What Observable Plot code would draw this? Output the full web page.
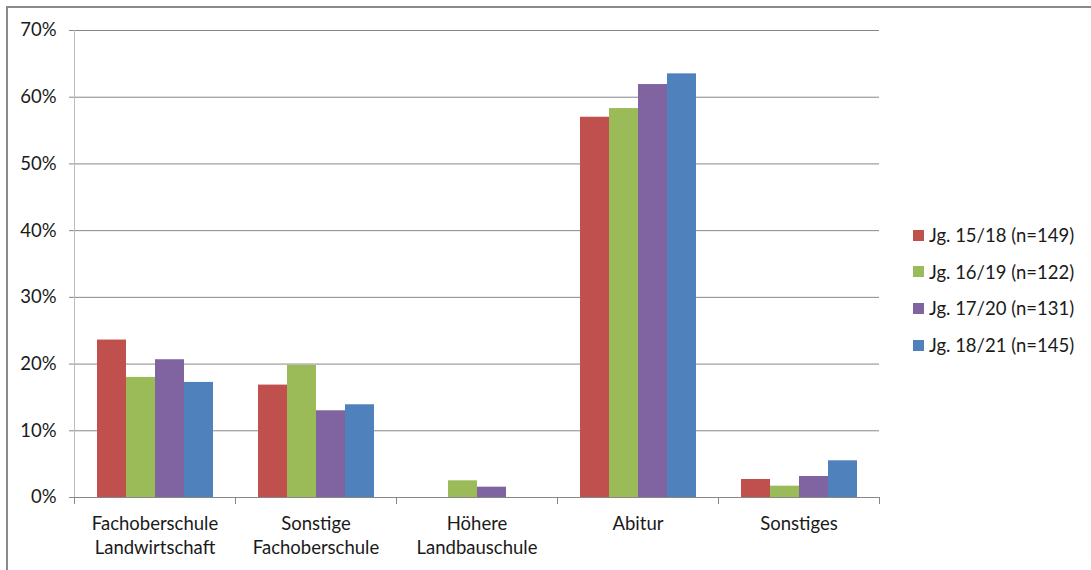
<!DOCTYPE html>
<html>
<head>
<meta charset="utf-8">
<script src="https://cdn.jsdelivr.net/npm/d3@7"></script>
<script src="https://cdn.jsdelivr.net/npm/@observablehq/plot@0.6"></script>
<style>
  html, body { margin: 0; padding: 0; background: #fff; }
  #wrap { position: relative; width: 1091px; height: 570px; overflow: hidden; background: #fff; }
  #border { position: absolute; left: 6px; top: 6px; width: 1200px; height: 700px; border: 2px solid #8a8a8a; box-sizing: border-box; pointer-events: none; }
  #legend { position: absolute; left: 913px; top: 0; font-family: Lato, "Open Sans", sans-serif; font-size: 18.5px; color: #1a1a1a; }
  .row { position: absolute; left: 0; white-space: nowrap; display: flex; align-items: center; height: 20px; }
  .sw { width: 11px; height: 11px; margin-right: 5px; }
</style>
</head>
<body>
<div id="wrap"><div id="chart"></div><div id="legend"></div><div id="border"></div></div>
<script>
// ---- data ----
const categories = ["Fachoberschule\nLandwirtschaft", "Sonstige\nFachoberschule", "Höhere\nLandbauschule", "Abitur", "Sonstiges"];
const series = ["Jg. 15/18 (n=149)", "Jg. 16/19 (n=122)", "Jg. 17/20 (n=131)", "Jg. 18/21 (n=145)"];
const values1518 = [23.6, 16.85, 0, 57.0, 2.7];
const values1619 = [18.0, 19.8, 2.5, 58.3, 1.7];
const values1720 = [20.65, 13.0, 1.55, 61.9, 3.15];
const values1821 = [17.25, 13.9, 0, 63.5, 5.5];
const yTicks = [0, 10, 20, 30, 40, 50, 60, 70];
const colors = ["#C0504D", "#9BBB59", "#8064A2", "#4F81BD"];

const allValues = [values1518, values1619, values1720, values1821];
const table = [];
series.forEach((s, si) => categories.forEach((c, ci) => table.push({cat: c, series: s, value: allValues[si][ci]})));

const font = 'Lato, "Open Sans", sans-serif';
const plotH = 570 - 30 - 73;

const chart = Plot.plot({
  width: 1091,
  height: 570,
  marginLeft: 73,
  marginRight: 211,
  marginTop: 30,
  marginBottom: 73,
  style: {fontFamily: font, fontSize: "18.5px", color: "#1a1a1a", background: "transparent"},
  fx: {domain: categories, padding: 0, label: null},
  x: {domain: series, paddingInner: 0, paddingOuter: 0.75, axis: null},
  y: {domain: [0, 70], label: null},
  color: {domain: series, range: colors},
  marks: [
    Plot.gridY(yTicks, {stroke: "#878787", strokeOpacity: 1}),
    Plot.axisY(yTicks, {tickSize: 5, tickPadding: 13, stroke: "#878787", tickFormat: d => d + "%", label: null, fontSize: 18.5}),
    Plot.frame({anchor: "left", facetAnchor: "left", stroke: "#bdbdbd", strokeOpacity: 1}),
    Plot.barY(table, {fx: "cat", x: "series", y: "value", fill: "series"}),
    Plot.ruleY([0], {stroke: "#878787"}),
    Plot.frame({anchor: "left", insetTop: plotH, insetBottom: -6, stroke: "#878787", strokeOpacity: 1}),
    Plot.frame({anchor: "right", facetAnchor: "right", insetTop: plotH, insetBottom: -6, stroke: "#878787", strokeOpacity: 1}),
    Plot.axisFx({anchor: "bottom", tickSize: 0, tickPadding: 15, lineHeight: 1.3, label: null, fontSize: 18.5})
  ]
});
document.getElementById("chart").appendChild(chart);

// legend built from the same series / colors
const legend = document.getElementById("legend");
const rowCenters = [235, 271.7, 308.4, 345.1];
series.forEach((s, i) => {
  const row = document.createElement("div");
  row.className = "row";
  row.style.top = (rowCenters[i] - 10) + "px";
  const sw = document.createElement("div");
  sw.className = "sw";
  sw.style.background = colors[i];
  const t = document.createElement("span");
  t.textContent = s;
  row.appendChild(sw);
  row.appendChild(t);
  legend.appendChild(row);
});
</script>
</body>
</html>
